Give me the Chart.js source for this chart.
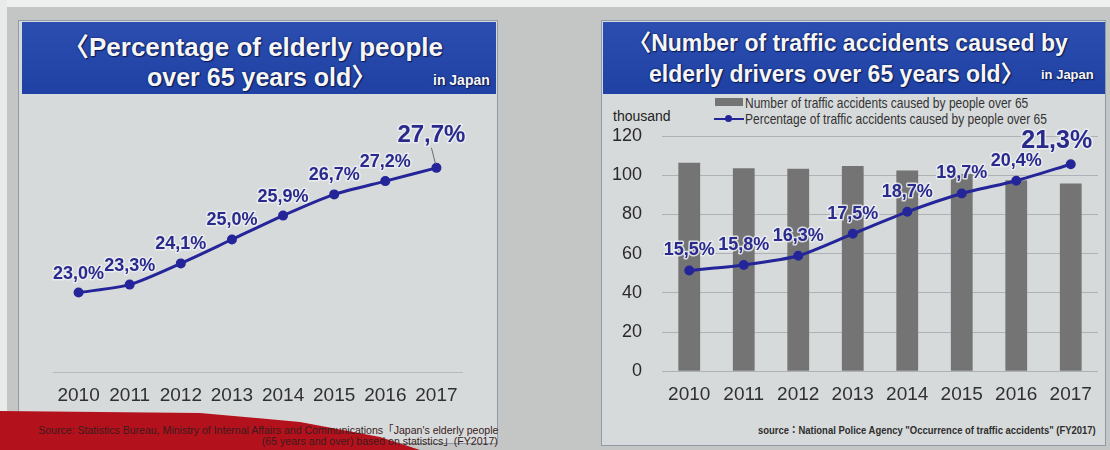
<!doctype html>
<html lang="en">
  <head>
    <meta charset="utf-8">
    <title>Elderly people and traffic accidents in Japan</title>
    <script src="https://cdn.jsdelivr.net/npm/chart.js"></script>
    <style>
      body { margin: 0; width: 1110px; height: 450px; position: relative; overflow: hidden;
             background: #c4c6c5; font-family: "Liberation Sans", Arial, "Noto Sans CJK JP", sans-serif; }
      .abs { position: absolute; }
      .panel { background: #d7dadb; border: 1px solid #8f9ca8; box-sizing: border-box; }
      .head { background: linear-gradient(#2b4eb0, #1f41a3); }
      .title { color: #f6f6f6; font-weight: bold; white-space: nowrap;
               text-shadow: 1px 1px 1px #0b1a55, 0 0 2px #0b1a55; }
      .src { color: #2e2e2e; font-size: 11px; white-space: nowrap; }
      canvas { position: absolute; }
    </style>
  </head>
  <body>
    <div class="abs" style="left:0;top:0;width:1110px;height:7px;background:#eef0ef"></div>
    <div class="abs" style="left:0;top:0;width:7px;height:450px;background:#e9ebea"></div>

    <!-- left panel -->
    <div class="abs panel" style="left:18px;top:20px;width:480px;height:424px"></div>
    <div class="abs head" style="left:22px;top:22px;width:474px;height:72px"></div>
    <div class="abs title" style="left:16px;top:32px;width:474px;text-align:center;font-size:26px;line-height:30px">〈Percentage of elderly people</div>
    <div class="abs title" style="left:147px;top:62px;font-size:25px;line-height:30px">over 65 years old〉</div>
    <div class="abs title" style="left:433px;top:71px;font-size:14px;line-height:18px">in Japan</div>

    <!-- red swoosh at bottom left -->
    <div class="abs" style="left:0;top:405px;width:430px;height:45px;background:#b3121d;
         clip-path:polygon(0 6px,200px 8px,300px 17px,380px 32px,420px 45px,0 45px)"></div>
    <div class="abs src" style="right:612px;top:421px;color:#3a1c1c;transform:scaleX(0.96);transform-origin:right">Source: Statistics Bureau, Ministry of Internal Affairs and Communications「Japan's elderly people</div>
    <div class="abs src" style="right:612px;top:432px;color:#3a1c1c;transform:scaleX(0.96);transform-origin:right">(65 years and over) based on statistics」(FY2017)</div>

    <!-- right panel -->
    <div class="abs panel" style="left:601px;top:20px;width:505px;height:426px"></div>
    <div class="abs head" style="left:603px;top:22px;width:502px;height:72px"></div>
    <div class="abs title" style="left:597px;top:28px;width:502px;text-align:center;font-size:23px;line-height:30px">〈Number of traffic accidents caused by</div>
    <div class="abs title" style="left:649px;top:59px;font-size:23px;line-height:30px">elderly drivers over 65 years old〉</div>
    <div class="abs title" style="left:1041px;top:66px;font-size:13px;line-height:18px">in Japan</div>

    <div class="abs" style="left:613px;top:108px;font-size:14px;color:#222">thousand</div>
    <div class="abs" style="left:715px;top:98px;width:28px;height:8px;background:#747474"></div>
    <div class="abs" style="left:745px;top:94px;font-size:15px;color:#333;white-space:nowrap;transform:scaleX(0.8);transform-origin:left">Number of traffic accidents caused by people over 65</div>
    <div class="abs" style="left:714px;top:118px;width:30px;height:2px;background:#25259a"></div>
    <div class="abs" style="left:725px;top:115px;width:7px;height:7px;border-radius:50%;background:#25259a"></div>
    <div class="abs" style="left:745px;top:110px;font-size:15px;color:#333;white-space:nowrap;transform:scaleX(0.8);transform-origin:left">Percentage of traffic accidents caused by people over 65</div>

    <div class="abs src" style="right:14px;top:421px;font-weight:bold;transform:scaleX(0.86);transform-origin:right">source：National Police Agency "Occurrence of traffic accidents" (FY2017)</div>

    <canvas id="leftChart" width="500" height="322" style="left:0;top:100px"></canvas>
    <canvas id="rightChart" width="505" height="323" style="left:600px;top:100px"></canvas>

    <script>
    // years on both charts
    const years = ['2010', '2011', '2012', '2013', '2014', '2015', '2016', '2017'];
    // share of people 65+ in the population (%)
    const elderlyShare = [23.0, 23.3, 24.1, 25.0, 25.9, 26.7, 27.2, 27.7];
    // traffic accidents caused by people 65+ (thousand)
    const elderlyAccidents = [106.3, 103.6, 103.3, 104.7, 102.4, 100.6, 97.4, 95.8];
    // share of all traffic accidents caused by people 65+ (%)
    const elderlyAccidentShare = [15.5, 15.8, 16.3, 17.5, 18.7, 19.7, 20.4, 21.3];
    const accidentTicks = [0, 20, 40, 60, 80, 100, 120];

    const lineBlue = '#25259a';
    const labelBlue = '#2a2a8c';
    Chart.defaults.font.family = '"Liberation Sans", Arial, sans-serif';
    Chart.defaults.color = '#2e2e2e';

    // writes "23,0%" style labels above each point of a line dataset
    const valueLabels = {
      id: 'valueLabels',
      afterDatasetsDraw(chart, args, opts) {
        const ctx = chart.ctx;
        const ds = chart.data.datasets[opts.dataset];
        const pts = chart.getDatasetMeta(opts.dataset).data;
        ctx.save();
        ctx.textAlign = 'center';
        ctx.textBaseline = 'middle';
        pts.forEach((pt, i) => {
          const last = i === pts.length - 1;
          const x = pt.x + (last ? opts.lastDx : 0);
          const y = pt.y + (last ? opts.lastDy : opts.dy);
          if (last && opts.leader) {
            ctx.strokeStyle = '#6c6c6c';
            ctx.lineWidth = 1;
            ctx.beginPath();
            ctx.moveTo(x, y + 12);
            ctx.lineTo(pt.x - 1, pt.y - 4);
            ctx.stroke();
          }
          const txt = ds.data[i].toFixed(1).replace('.', ',') + '%';
          ctx.font = 'bold ' + (last ? opts.lastSize : opts.size) + 'px "Liberation Sans", Arial, sans-serif';
          ctx.lineJoin = 'round';
          ctx.lineWidth = 3;
          ctx.strokeStyle = 'rgba(236,238,242,0.85)';
          ctx.strokeText(txt, x, y);
          ctx.fillStyle = labelBlue;
          ctx.fillText(txt, x, y);
        });
        ctx.restore();
      }
    };

    new Chart(document.getElementById('leftChart'), {
      type: 'line',
      data: {
        labels: years,
        datasets: [{
          data: elderlyShare,
          borderColor: lineBlue,
          backgroundColor: lineBlue,
          borderWidth: 3,
          pointRadius: 3.5,
          tension: 0.25
        }]
      },
      options: {
        responsive: false,
        animation: false,
        layout: { padding: { left: 53, right: 38, top: 36, bottom: 3 } },
        scales: {
          x: {
            offset: true,
            grid: { display: false, drawTicks: false },
            border: { display: true, color: '#b6babc', width: 1 },
            ticks: { padding: 12, maxRotation: 0, font: { size: 19 }, color: '#303030' }
          },
          y: { display: false, min: 20, max: 28.9 }
        },
        plugins: {
          legend: { display: false },
          tooltip: { enabled: false },
          valueLabels: { dataset: 0, dy: -19, size: 18, lastDx: -5, lastDy: -32, lastSize: 24, leader: true }
        }
      },
      plugins: [valueLabels]
    });

    new Chart(document.getElementById('rightChart'), {
      type: 'bar',
      data: {
        labels: years,
        datasets: [{
          type: 'line',
          data: elderlyAccidentShare,
          yAxisID: 'y1',
          order: 0,
          borderColor: lineBlue,
          backgroundColor: lineBlue,
          borderWidth: 3,
          pointRadius: 3.5,
          tension: 0.25
        }, {
          type: 'bar',
          data: elderlyAccidents,
          yAxisID: 'y',
          order: 1,
          backgroundColor: '#747474',
          barPercentage: 0.4,
          categoryPercentage: 1
        }]
      },
      options: {
        responsive: false,
        animation: false,
        layout: { padding: { left: 0, right: 6, top: 36, bottom: 5 } },
        scales: {
          x: {
            grid: { display: false, drawTicks: false },
            border: { display: false },
            ticks: { padding: 12, maxRotation: 0, font: { size: 19 }, color: '#303030' }
          },
          y: {
            min: 0,
            max: 120,
            afterBuildTicks: (scale) => { scale.ticks = accidentTicks.map(v => ({ value: v })); },
            afterFit: (scale) => { scale.width = 62; },
            grid: { color: '#aeb2b5', drawTicks: false },
            border: { display: false },
            ticks: { padding: 20, font: { size: 18 }, color: '#2a2a2a' }
          },
          y1: { display: false, min: 10, max: 22.84 }
        },
        plugins: {
          legend: { display: false },
          tooltip: { enabled: false },
          valueLabels: { dataset: 0, dy: -20, size: 18, lastDx: -14, lastDy: -23, lastSize: 25, leader: false }
        }
      },
      plugins: [valueLabels]
    });
    </script>
  </body>
</html>
